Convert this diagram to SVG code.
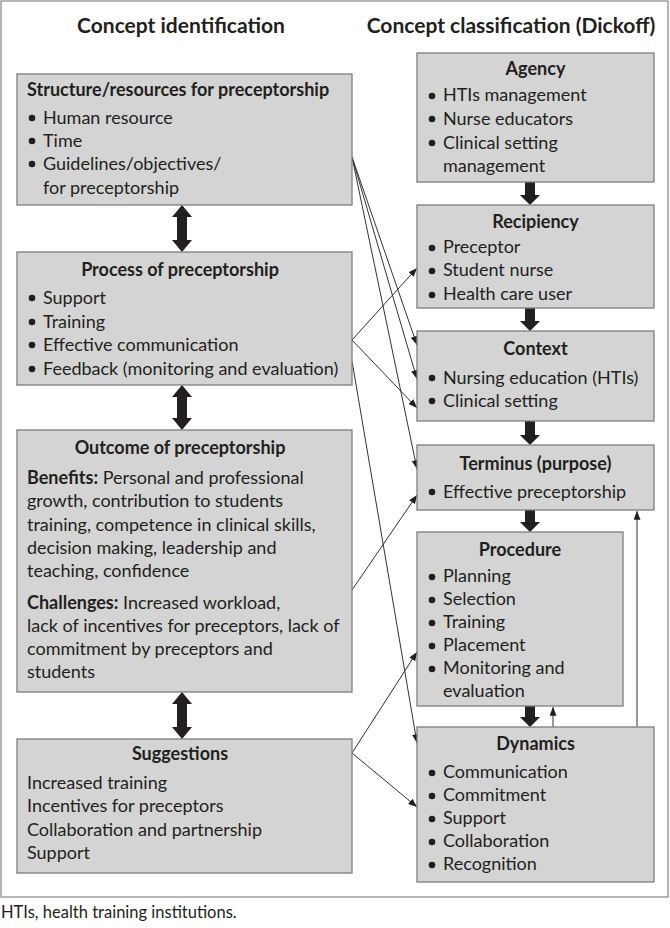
<svg xmlns="http://www.w3.org/2000/svg" width="670" height="928" viewBox="0 0 670 928">
<defs>
<style>
.frame{fill:#fff;stroke:#6d6d6d;stroke-width:1}
.box{fill:#d4d4d4;stroke:#7e7e7e;stroke-width:1.3}
.t{font-family:Lato,"Liberation Sans",sans-serif;font-size:18px;fill:#231f20}
.b{font-weight:bold}
.h{font-family:Lato,"Liberation Sans",sans-serif;font-size:21px;font-weight:bold;fill:#231f20}
.c{text-anchor:middle}
.dot{fill:#231f20}
.thick{fill:#231f20}
.con{stroke:#333;stroke-width:1;fill:none;marker-end:url(#ah)}
</style>
<marker id="ah" viewBox="0 0 10 8" refX="10" refY="4" markerWidth="9" markerHeight="7" markerUnits="userSpaceOnUse" orient="auto">
<path d="M0,0 L10,4 L0,8 Z" fill="#231f20"/>
</marker>
</defs>
<rect class="frame" x="1" y="1" width="667" height="896"/>
<text class="h c" x="181" y="33">Concept identification</text>
<text class="h c" x="511" y="33">Concept classification (Dickoff)</text>

<g id="connectors">
<line class="con" x1="352" y1="157" x2="417" y2="345"/>
<line class="con" x1="352" y1="157" x2="417" y2="379"/>
<line class="con" x1="352" y1="157" x2="417" y2="469"/>
<line class="con" x1="352" y1="361" x2="417" y2="743"/>
<line class="con" x1="352" y1="340" x2="417" y2="268"/>
<line class="con" x1="352" y1="340" x2="417" y2="408"/>
<line class="con" x1="352" y1="590" x2="417" y2="495"/>
<line class="con" x1="352" y1="753" x2="417" y2="652"/>
<line class="con" x1="352" y1="753" x2="417" y2="807"/>
<line class="con" x1="637" y1="727" x2="637" y2="511"/>
<line class="con" x1="553" y1="727" x2="553" y2="707"/>
<path class="thick" d="M182,205 L192,217 L187,217 L187,240 L192,240 L182,252 L172,240 L177,240 L177,217 L172,217 Z"/>
<path class="thick" d="M182,385 L192,397 L187,397 L187,418 L192,418 L182,430 L172,418 L177,418 L177,397 L172,397 Z"/>
<path class="thick" d="M182,692 L192,704 L187,704 L187,727 L192,727 L182,739 L172,727 L177,727 L177,704 L172,704 Z"/>
<path class="thick" d="M525,182 L535,182 L535,195 L540,195 L530,205 L520,195 L525,195 Z"/>
<path class="thick" d="M525,308 L535,308 L535,321 L540,321 L530,331 L520,321 L525,321 Z"/>
<path class="thick" d="M525,421 L535,421 L535,435 L540,435 L530,445 L520,435 L525,435 Z"/>
<path class="thick" d="M525,510 L535,510 L535,522 L540,522 L530,532 L520,522 L525,522 Z"/>
<path class="thick" d="M525,706 L535,706 L535,717 L540,717 L530,727 L520,717 L525,717 Z"/>
</g>

<g id="structure">
<rect class="box" x="17" y="74" width="335" height="131"/>
<text class="t b" x="27" y="96">Structure/resources for preceptorship</text>
<circle class="dot" cx="32" cy="118" r="3.3"/><text class="t" x="43" y="124">Human resource</text>
<circle class="dot" cx="32" cy="141" r="3.3"/><text class="t" x="43" y="147">Time</text>
<circle class="dot" cx="32" cy="164" r="3.3"/><text class="t" x="43" y="170">Guidelines/objectives/</text>
<text class="t" x="43" y="194">for preceptorship</text>
</g>

<g id="process">
<rect class="box" x="17" y="252" width="335" height="133"/>
<text class="t b c" x="180" y="276">Process of preceptorship</text>
<circle class="dot" cx="32" cy="298" r="3.3"/><text class="t" x="43" y="304">Support</text>
<circle class="dot" cx="32" cy="322" r="3.3"/><text class="t" x="43" y="328">Training</text>
<circle class="dot" cx="32" cy="345" r="3.3"/><text class="t" x="43" y="351">Effective communication</text>
<circle class="dot" cx="32" cy="369" r="3.3"/><text class="t" x="43" y="375">Feedback (monitoring and evaluation)</text>
</g>

<g id="outcome">
<rect class="box" x="17" y="430" width="335" height="262"/>
<text class="t b c" x="180" y="454">Outcome of preceptorship</text>
<text class="t" x="27" y="484"><tspan class="b">Benefits:</tspan> Personal and professional</text>
<text class="t" x="27" y="507">growth, contribution to students</text>
<text class="t" x="27" y="531">training, competence in  clinical skills,</text>
<text class="t" x="27" y="554">decision making, leadership and</text>
<text class="t" x="27" y="577">teaching, confidence</text>
<text class="t" x="27" y="609"><tspan class="b">Challenges:</tspan> Increased workload,</text>
<text class="t" x="27" y="632">lack of incentives for preceptors, lack of</text>
<text class="t" x="27" y="655">commitment by preceptors and</text>
<text class="t" x="27" y="678">students</text>
</g>

<g id="suggestions">
<rect class="box" x="17" y="739" width="335" height="134"/>
<text class="t b c" x="180" y="760">Suggestions</text>
<text class="t" x="27" y="789">Increased training</text>
<text class="t" x="27" y="812">Incentives for preceptors</text>
<text class="t" x="27" y="836">Collaboration and partnership</text>
<text class="t" x="27" y="859">Support</text>
</g>

<g id="agency">
<rect class="box" x="417" y="53" width="237" height="129"/>
<text class="t b c" x="535.5" y="75">Agency</text>
<circle class="dot" cx="432" cy="96" r="3.3"/><text class="t" x="443" y="101">HTIs management</text>
<circle class="dot" cx="432" cy="119" r="3.3"/><text class="t" x="443" y="125">Nurse educators</text>
<circle class="dot" cx="432" cy="143" r="3.3"/><text class="t" x="443" y="149">Clinical setting</text>
<text class="t" x="443" y="172">management</text>
</g>

<g id="recipiency">
<rect class="box" x="417" y="205" width="237" height="103"/>
<text class="t b c" x="535.5" y="228">Recipiency</text>
<circle class="dot" cx="432" cy="248" r="3.3"/><text class="t" x="443" y="253">Preceptor</text>
<circle class="dot" cx="432" cy="271" r="3.3"/><text class="t" x="443" y="276">Student nurse</text>
<circle class="dot" cx="432" cy="295" r="3.3"/><text class="t" x="443" y="300">Health care user</text>
</g>

<g id="context">
<rect class="box" x="417" y="331" width="237" height="90"/>
<text class="t b c" x="535.5" y="355">Context</text>
<circle class="dot" cx="432" cy="378" r="3.3"/><text class="t" x="443" y="384">Nursing education (HTIs)</text>
<circle class="dot" cx="432" cy="401" r="3.3"/><text class="t" x="443" y="407">Clinical setting</text>
</g>

<g id="terminus">
<rect class="box" x="417" y="445" width="237" height="65"/>
<text class="t b c" x="535.5" y="470">Terminus (purpose)</text>
<circle class="dot" cx="432" cy="492" r="3.3"/><text class="t" x="443" y="498">Effective preceptorship</text>
</g>

<g id="procedure">
<rect class="box" x="417" y="532" width="206" height="174"/>
<text class="t b c" x="520" y="556">Procedure</text>
<circle class="dot" cx="432" cy="577" r="3.3"/><text class="t" x="443" y="582">Planning</text>
<circle class="dot" cx="432" cy="600" r="3.3"/><text class="t" x="443" y="605">Selection</text>
<circle class="dot" cx="432" cy="623" r="3.3"/><text class="t" x="443" y="628">Training</text>
<circle class="dot" cx="432" cy="646" r="3.3"/><text class="t" x="443" y="651">Placement</text>
<circle class="dot" cx="432" cy="669" r="3.3"/><text class="t" x="443" y="674">Monitoring and</text>
<text class="t" x="443" y="697">evaluation</text>
</g>

<g id="dynamics">
<rect class="box" x="417" y="727" width="237" height="155"/>
<text class="t b c" x="535.5" y="750">Dynamics</text>
<circle class="dot" cx="432" cy="773" r="3.3"/><text class="t" x="443" y="778">Communication</text>
<circle class="dot" cx="432" cy="796" r="3.3"/><text class="t" x="443" y="801">Commitment</text>
<circle class="dot" cx="432" cy="819" r="3.3"/><text class="t" x="443" y="824">Support</text>
<circle class="dot" cx="432" cy="842" r="3.3"/><text class="t" x="443" y="847">Collaboration</text>
<circle class="dot" cx="432" cy="865" r="3.3"/><text class="t" x="443" y="870">Recognition</text>
</g>

<text class="t" x="1" y="918" style="font-size:16.5px">HTIs, health training institutions.</text>
</svg>
